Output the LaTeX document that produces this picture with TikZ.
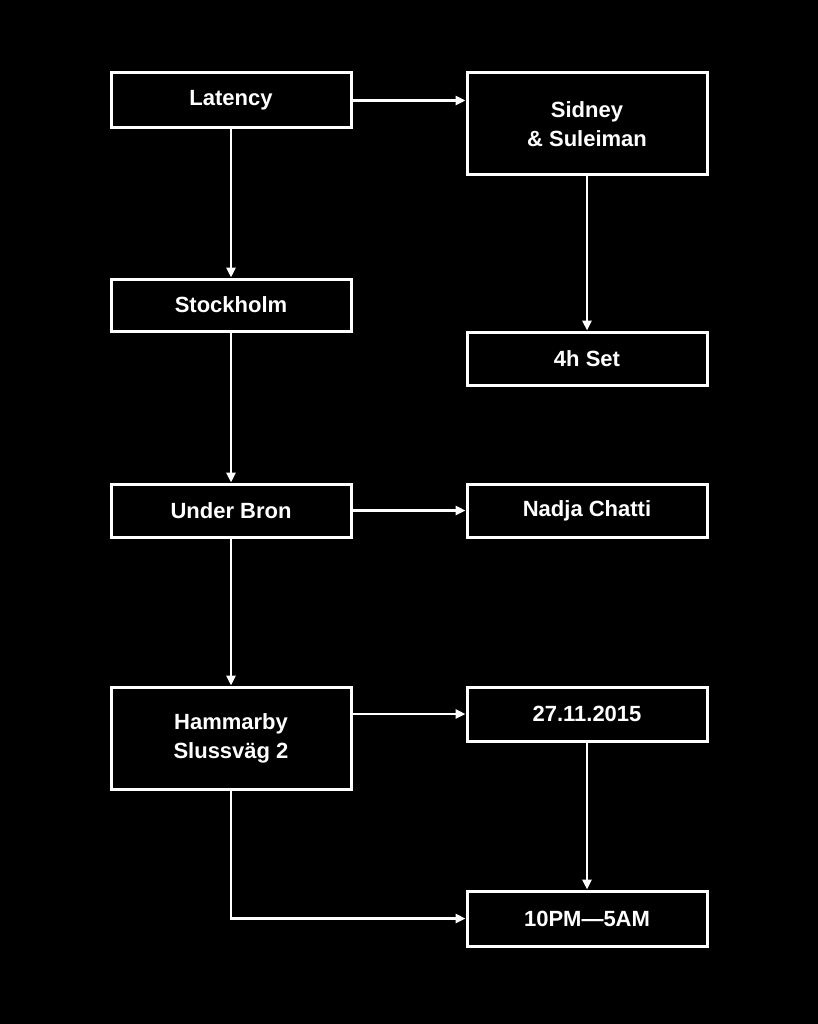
\documentclass[tikz,border=0pt]{standalone}
\usepackage{fontspec}
\setmainfont{Liberation Sans}
\usetikzlibrary{arrows.meta}
\begin{document}
\begin{tikzpicture}[x=1pt,y=-1pt,
  box/.style={draw=white,line width=3pt,minimum width=240pt,align=center,text=white,font=\fontsize{22}{29}\selectfont\bfseries,inner sep=0pt},
  conn/.style={draw=white,line width=2.5pt,-{Triangle[length=10pt,width=9pt]}}]
\fill[black] (0,0) rectangle (818,1024);
\useasboundingbox (0,0) rectangle (818,1024);
\node[box,minimum height=55pt] (lat) at (231,100.5) {Latency};
\node[box,minimum height=102pt] (sid) at (587,124) {Sidney\\\& Suleiman};
\node[box,minimum height=52pt] (sto) at (231,305) {Stockholm};
\node[box,minimum height=53pt] (set) at (587,358.5) {4h Set};
\node[box,minimum height=53pt] (ub) at (231,510.5) {Under Bron};
\node[box,minimum height=53pt] (nc) at (587,510.5) {Nadja Chatti};
\node[box,minimum height=102pt] (ham) at (231,738) {Hammarby\\Slussväg 2};
\node[box,minimum height=54pt] (dat) at (587,714) {27.11.2015};
\node[box,minimum height=55pt] (tim) at (587,918.5) {10PM—5AM};
\draw[conn] (lat.east) -- (lat.east -| sid.west);
\draw[conn] (lat) -- (sto);
\draw[conn] (sid) -- (set);
\draw[conn] (sto) -- (ub);
\draw[conn] (ub) -- (nc);
\draw[conn] (ub) -- (ham);
\draw[conn] (ham.east |- dat) -- (dat.west);
\draw[conn] (dat) -- (tim);
\draw[conn] (ham.south) |- (tim.west);
\end{tikzpicture}
\end{document}
